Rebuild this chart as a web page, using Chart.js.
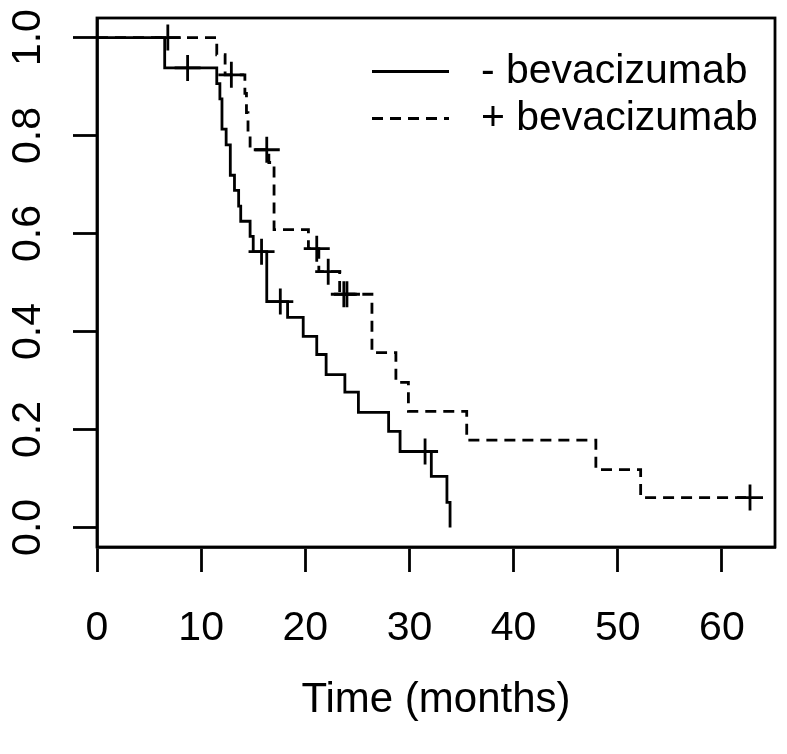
<!DOCTYPE html>
<html>
<head>
<meta charset="utf-8">
<script src="https://cdn.jsdelivr.net/npm/chart.js@4.4.1/dist/chart.umd.min.js"></script>
<style>
  html, body { margin: 0; padding: 0; background: #ffffff; }
  #wrap { width: 787px; height: 754px; }
</style>
</head>
<body>
<div id="wrap"><canvas id="c" width="787" height="754"></canvas></div>
<script>
// ---- data ----
const seriesNames = [' - bevacizumab', ' + bevacizumab'];

// "- bevacizumab" (solid): time of each step (months) and survival after the step
const timesMinus = [0, 6.5, 11.5, 11.8, 12.0, 12.4, 12.8, 13.2, 13.6, 13.8, 14.7, 15.0, 16.3, 18.3, 19.8, 21.1, 22.0, 23.8, 25.1, 28.0, 29.1, 32.1, 33.6, 33.9];
const survMinus  = [1.0, 0.938, 0.906, 0.875, 0.813, 0.781, 0.719, 0.688, 0.656, 0.625, 0.594, 0.563, 0.461, 0.429, 0.390, 0.353, 0.312, 0.276, 0.235, 0.196, 0.155, 0.104, 0.051, 0.0];
const censorTimesMinus = [8.7, 15.8, 17.6, 31.5];
const censorSurvMinus  = [0.938, 0.563, 0.461, 0.155];

// "+ bevacizumab" (dashed)
const timesPlus = [0, 11.5, 12.3, 14.2, 14.35, 14.5, 14.7, 16.5, 17.0, 20.3, 21.3, 23.3, 26.4, 28.7, 29.9, 35.5, 47.9, 52.2, 62.7];
const survPlus  = [1.0, 0.965, 0.924, 0.886, 0.847, 0.808, 0.771, 0.745, 0.608, 0.569, 0.522, 0.476, 0.357, 0.296, 0.237, 0.178, 0.118, 0.061, 0.061];
const censorTimesPlus = [6.8, 12.9, 16.3, 21.1, 22.2, 23.7, 24.0, 62.7];
const censorSurvPlus  = [1.0, 0.924, 0.771, 0.569, 0.522, 0.476, 0.476, 0.061];

// tick labels
const xTickValues = [0, 10, 20, 30, 40, 50, 60];
const yTickValues = [0.0, 0.2, 0.4, 0.6, 0.8, 1.0];
const xTitle = 'Time (months)';

// ---- build chart ----
const pairs = (xs, ys) => xs.map((x, i) => ({ x: x, y: ys[i] }));
const FONT = 'Liberation Sans, Arial, Helvetica, sans-serif';
const LW = 2.8;
const FS = 41;

const boxPlugin = {
  id: 'plotBox',
  afterDatasetsDraw(chart) {
    const a = chart.chartArea, ctx = chart.ctx;
    ctx.save();
    ctx.strokeStyle = '#000';
    ctx.lineWidth = LW;
    ctx.setLineDash([]);
    ctx.strokeRect(a.left, a.top, a.right - a.left, a.bottom - a.top);
    ctx.restore();
  }
};

const legendPlace = {
  id: 'legendPlace',
  afterLayout(chart) {
    const lg = chart.legend;
    if (!lg) return;
    const w = lg.width, h = lg.height;
    lg.left = 366; lg.right = 366 + w;
    lg.top = 45; lg.bottom = 45 + h;
  }
};

const noScalePad = s => { s.paddingTop = 0; s.paddingBottom = 0; s.paddingLeft = 0; s.paddingRight = 0; };

new Chart(document.getElementById('c'), {
  type: 'line',
  data: {
    datasets: [
      { label: seriesNames[0], data: pairs(timesMinus, survMinus), stepped: true,
        borderColor: '#000', borderWidth: LW, pointRadius: 0, fill: false },
      { label: seriesNames[1], data: pairs(timesPlus, survPlus), stepped: true,
        borderColor: '#000', borderWidth: LW, borderDash: [11, 7], pointRadius: 0, fill: false },
      { label: 'censor-', type: 'scatter', data: pairs(censorTimesMinus, censorSurvMinus),
        pointStyle: 'cross', pointRadius: 13, borderColor: '#000', borderWidth: LW, showLine: false },
      { label: 'censor+', type: 'scatter', data: pairs(censorTimesPlus, censorSurvPlus),
        pointStyle: 'cross', pointRadius: 13, borderColor: '#000', borderWidth: LW, showLine: false }
    ]
  },
  options: {
    responsive: false,
    animation: false,
    events: [],
    layout: { autoPadding: false, padding: { top: 18, right: 12, left: 0, bottom: 0 } },
    scales: {
      x: {
        type: 'linear', min: 0, max: 65.1,
        afterBuildTicks: s => { s.ticks = xTickValues.map(v => ({ value: v })); },
        afterFit: s => { s.height = 207; noScalePad(s); },
        grid: { drawOnChartArea: false, tickLength: 25, tickWidth: LW, tickColor: '#000' },
        border: { display: true, color: '#000', width: LW },
        ticks: { color: '#000', padding: 32, maxRotation: 0, autoSkip: false,
                 font: { family: FONT, size: FS }, callback: v => String(v) },
        title: { display: true, text: xTitle, color: '#000',
                 font: { family: FONT, size: 42 }, padding: { top: 0, bottom: 28 } }
      },
      y: {
        type: 'linear', min: -0.04, max: 1.04,
        afterBuildTicks: s => { s.ticks = yTickValues.map(v => ({ value: v })); },
        afterFit: s => { s.width = 97; noScalePad(s); },
        grid: { drawOnChartArea: false, tickLength: 24, tickWidth: LW, tickColor: '#000' },
        border: { display: true, color: '#000', width: LW },
        ticks: { color: '#000', padding: 16, minRotation: 90, maxRotation: 90, crossAlign: 'center',
                 autoSkip: false, font: { family: FONT, size: FS }, callback: v => Number(v).toFixed(1) }
      }
    },
    plugins: {
      legend: {
        position: 'chartArea', align: 'start',
        labels: {
          generateLabels: chart => Chart.defaults.plugins.legend.labels.generateLabels(chart)
            .filter(item => item.datasetIndex < 2)
            .map(item => Object.assign({}, item, {
              lineDash: chart.data.datasets[item.datasetIndex].borderDash || [],
              lineWidth: LW, strokeStyle: '#000', fillStyle: '#000'
            })),
          usePointStyle: true, pointStyle: 'line', pointStyleWidth: 77,
          color: '#000', padding: 6, font: { family: FONT, size: FS }
        }
      },
      tooltip: { enabled: false }
    }
  },
  plugins: [boxPlugin, legendPlace]
});
</script>
</body>
</html>
